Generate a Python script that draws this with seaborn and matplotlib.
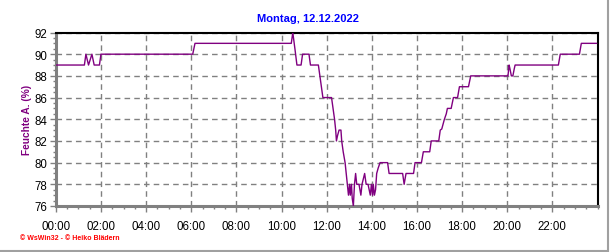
import matplotlib
matplotlib.use("Agg")
import matplotlib.pyplot as plt
from matplotlib.lines import Line2D
from matplotlib.ticker import MultipleLocator, FixedLocator
import seaborn as sns
import pandas as pd

# ---- data ----
times = ["00:00", "01:16", "01:20", "01:27", "01:36", "01:42", "01:56", "02:00",
         "06:04", "06:10", "10:26", "10:30", "10:36", "10:41", "10:52", "10:56",
         "11:13", "11:17", "11:38", "11:42", "11:46", "11:50", "12:13", "12:17",
         "12:21", "12:24", "12:26", "12:29", "12:33", "12:38", "12:40", "12:44",
         "12:49", "12:52", "12:55", "12:58", "13:01", "13:03", "13:06", "13:08",
         "13:11", "13:14", "13:17", "13:20", "13:26", "13:31", "13:34", "13:41",
         "13:45", "13:50", "13:56", "13:59", "14:02", "14:04", "14:07", "14:10",
         "14:13", "14:17", "14:22", "14:42", "14:46", "15:22", "15:26", "15:31",
         "15:51", "15:55", "16:12", "16:17", "16:34", "16:38", "16:58", "17:02",
         "17:06", "17:13", "17:18", "17:21", "17:31", "17:37", "17:48", "17:53",
         "18:17", "18:23", "20:02", "20:05", "20:07", "20:11", "20:15", "20:19",
         "20:21", "22:16", "22:21", "23:12", "23:17", "23:58"]
humidity = [89, 89, 90, 89, 90, 89, 89, 90,
            90, 91, 91, 92, 90.4, 89, 89, 90,
            90, 89, 89, 88, 87, 86, 86, 85,
            84, 83, 82, 82.5, 83, 83, 82, 81,
            80, 79, 78, 77, 78, 77, 78, 76.7,
            76, 78, 79, 78, 78, 77, 78, 79,
            78, 78, 77, 78, 77, 78, 77, 77.5,
            79, 79.5, 80, 80, 79, 79, 78, 79,
            79, 80, 80, 81, 81, 82, 82, 83,
            83.1, 84, 84.5, 85, 85, 86, 86, 87,
            87, 88, 88, 89, 88.7, 88, 88, 88.7,
            89, 89, 90, 90, 91, 91]
y_ticks = [76, 78, 80, 82, 84, 86, 88, 90, 92]
x_tick_hours = [0, 2, 4, 6, 8, 10, 12, 14, 16, 18, 20, 22]
x_tick_labels = [f"{h:02d}:00" for h in x_tick_hours]
title = "Montag, 12.12.2022"
ylabel = "Feuchte A. (%)"
footer = "\u00a9 WsWin32 - \u00a9 Heiko Bl\u00e4dern"

df = pd.DataFrame({
    "hour": [int(t[:2]) + int(t[3:]) / 60 for t in times],
    "humidity": humidity,
})

sns.set_theme(style="white")
plt.rcParams["font.family"] = ["Liberation Sans", "DejaVu Sans"]

fig = plt.figure(figsize=(6.16, 2.53), dpi=100)
fig.patch.set_facecolor("white")
ax = fig.add_axes([55.8 / 616, 1 - 207 / 253, (597.5 - 55.8) / 616, (207 - 33.5) / 253])

sns.lineplot(data=df, x="hour", y="humidity", ax=ax, color="#800080",
             linewidth=1.0, zorder=3)

ax.set_xlim(0, 24)
ax.set_ylim(76, 92)
ax.xaxis.set_major_locator(FixedLocator(x_tick_hours))
ax.set_xticklabels(x_tick_labels)
ax.xaxis.set_minor_locator(MultipleLocator(0.5))
ax.set_yticks(y_ticks)
ax.yaxis.set_minor_locator(MultipleLocator(0.5))

ax.grid(True, which="major", color="#808080", linestyle=(0, (4, 3)), linewidth=1)
ax.set_axisbelow(True)

for side in ["top", "right"]:
    ax.spines[side].set_color("black")
    ax.spines[side].set_linewidth(1.5)
for side in ["left", "bottom"]:
    ax.spines[side].set_color("#808080")
    ax.spines[side].set_linewidth(2.2)

ax.tick_params(axis="both", which="major", direction="out", length=4, width=1,
               color="#808080", labelsize=8.3, labelcolor="black", pad=2)
ax.tick_params(axis="x", which="major", pad=6)
ax.tick_params(axis="both", which="minor", direction="out", length=2.5, width=1,
               color="#808080")
ax.tick_params(left=True, bottom=True, which="both")

ax.set_xlabel("")
ax.set_ylabel(ylabel, color="#800080", fontsize=7.3, fontweight="bold")
ax.yaxis.set_label_coords((26.7 - 55.8) / 541.7, 0.5)
ax.yaxis.label.set_verticalalignment("center")

fig.text(0.5, 1 - 19 / 253, title, ha="center", va="center", color="#0000FF",
         fontsize=8, fontweight="bold")
fig.text(20 / 616, 1 - 239 / 253, footer, ha="left", va="center", color="#FF0000",
         fontsize=5, fontweight="bold")

# window frame lines on right and bottom
fig.add_artist(Line2D([608 / 616, 608 / 616], [0, 1], transform=fig.transFigure,
                      color="#A0A0A0", linewidth=1.5))
fig.add_artist(Line2D([0, 608 / 616], [1.5 / 253, 1.5 / 253], transform=fig.transFigure,
                      color="#A0A0A0", linewidth=1.5))

fig.savefig("out.png", dpi=100)
